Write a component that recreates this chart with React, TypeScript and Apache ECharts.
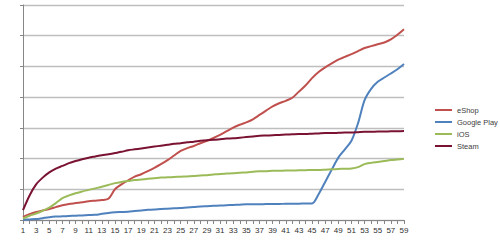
import React, { useEffect, useRef } from "react";
import * as echarts from "echarts";

const categories: string[] = Array.from({ length: 59 }, (_, i) => String(i + 1));

const eShop = [0.10, 0.19, 0.26, 0.31, 0.36, 0.42, 0.48, 0.52, 0.55, 0.58, 0.61, 0.63, 0.65, 0.69, 1.00, 1.16, 1.29, 1.41, 1.49, 1.59, 1.70, 1.82, 1.95, 2.10, 2.25, 2.34, 2.41, 2.50, 2.58, 2.67, 2.77, 2.89, 3.01, 3.10, 3.18, 3.28, 3.42, 3.56, 3.70, 3.80, 3.88, 3.98, 4.18, 4.38, 4.62, 4.82, 4.97, 5.10, 5.22, 5.31, 5.40, 5.50, 5.60, 5.66, 5.72, 5.78, 5.88, 6.03, 6.21];
const googlePlay = [0.01, 0.02, 0.03, 0.06, 0.09, 0.11, 0.12, 0.13, 0.14, 0.15, 0.16, 0.17, 0.20, 0.23, 0.25, 0.26, 0.27, 0.29, 0.31, 0.33, 0.34, 0.36, 0.37, 0.38, 0.39, 0.41, 0.42, 0.44, 0.45, 0.46, 0.47, 0.48, 0.49, 0.50, 0.51, 0.51, 0.51, 0.52, 0.52, 0.52, 0.53, 0.53, 0.53, 0.54, 0.54, 0.84, 1.24, 1.64, 2.03, 2.30, 2.58, 3.15, 3.90, 4.27, 4.50, 4.64, 4.77, 4.91, 5.08];
const iOS = [0.05, 0.14, 0.21, 0.30, 0.40, 0.55, 0.71, 0.80, 0.87, 0.93, 0.98, 1.03, 1.08, 1.14, 1.20, 1.24, 1.27, 1.30, 1.32, 1.34, 1.36, 1.38, 1.39, 1.40, 1.41, 1.42, 1.43, 1.45, 1.46, 1.48, 1.50, 1.51, 1.52, 1.54, 1.55, 1.57, 1.59, 1.59, 1.60, 1.60, 1.61, 1.61, 1.62, 1.62, 1.63, 1.63, 1.64, 1.65, 1.66, 1.67, 1.68, 1.72, 1.82, 1.86, 1.89, 1.92, 1.95, 1.97, 1.99];
const steam = [0.32, 0.80, 1.16, 1.38, 1.55, 1.67, 1.76, 1.85, 1.92, 1.98, 2.03, 2.07, 2.11, 2.14, 2.18, 2.22, 2.27, 2.30, 2.33, 2.36, 2.39, 2.42, 2.45, 2.48, 2.50, 2.53, 2.55, 2.58, 2.60, 2.61, 2.63, 2.65, 2.66, 2.68, 2.70, 2.72, 2.74, 2.75, 2.76, 2.77, 2.78, 2.79, 2.80, 2.80, 2.81, 2.82, 2.83, 2.83, 2.84, 2.85, 2.85, 2.86, 2.87, 2.87, 2.88, 2.88, 2.89, 2.89, 2.90];

const seriesNames = ["eShop", "Google Play", "iOS", "Steam"];
const seriesData = [eShop, googlePlay, iOS, steam];
const seriesColors = ["#C0504D", "#4F81BD", "#9BBB59", "#7A1232"];

export default function App() {
  const ref = useRef<HTMLDivElement>(null);
  useEffect(() => {
    if (!ref.current) return;
    const chart = echarts.init(ref.current, undefined, { renderer: "svg" });
    chart.setOption({
      animation: false,
      backgroundColor: "#ffffff",
      grid: { left: 23, right: 96, top: 5, bottom: 27, containLabel: false },
      legend: {
        orient: "vertical",
        left: 435,
        top: 105,
        padding: 0,
        icon: "rect",
        itemWidth: 17,
        itemHeight: 2,
        itemGap: 2,
        textStyle: { fontSize: 7.5, color: "#404040", fontFamily: "Liberation Sans", lineHeight: 10 },
        data: seriesNames,
      },
      xAxis: {
        type: "category",
        data: categories,
        boundaryGap: false,
        axisLine: { lineStyle: { color: "#868686", width: 1 } },
        axisTick: { show: true, interval: 0, length: 4, lineStyle: { color: "#868686" } },
        axisLabel: { interval: 1, fontSize: 8, color: "#303030", fontFamily: "Liberation Sans", margin: 6 },
      },
      yAxis: {
        type: "value",
        min: 0,
        max: 7,
        interval: 1,
        axisLine: { show: true, lineStyle: { color: "#868686", width: 1 } },
        axisTick: { show: true, length: 3, lineStyle: { color: "#868686" } },
        axisLabel: { show: false },
        splitLine: { show: true, lineStyle: { color: "#BEBEBE", width: 1.3 } },
      },
      series: seriesNames.map((name, i) => ({
        name,
        type: "line",
        data: seriesData[i],
        smooth: 0.3,
        showSymbol: false,
        symbol: "none",
        lineStyle: { color: seriesColors[i], width: 2 },
        itemStyle: { color: seriesColors[i] },
      })),
    });
    return () => chart.dispose();
  }, []);
  return <div ref={ref} style={{ width: 500, height: 247, position: "absolute", left: 0, top: 0 }} />;
}
